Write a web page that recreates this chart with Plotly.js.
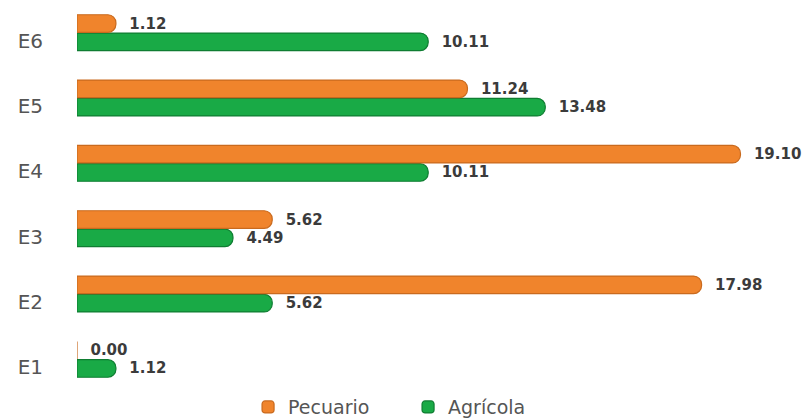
<!DOCTYPE html>
<html>
<head>
<meta charset="utf-8">
<script src="https://cdn.plot.ly/plotly-3.0.1.min.js"></script>
<style>
  html, body { margin: 0; padding: 0; background: #ffffff; }
  #chart { width: 803px; height: 418px; }
</style>
</head>
<body>
<div id="chart"></div>
<script>
// Participación por estrato (%), sector pecuario vs agrícola
const categories = ['E1', 'E2', 'E3', 'E4', 'E5', 'E6'];
const pecuario = [0.00, 17.98, 5.62, 19.10, 11.24, 1.12];
const agricola = [1.12, 5.62, 4.49, 10.11, 13.48, 10.11];

const fontFamily = '"DejaVu Sans", "Open Sans", sans-serif';
const labelFont = { family: fontFamily, size: 15, color: '#3b3b3b', weight: 'bold' };

function barTrace(name, values, fill, edge) {
  return {
    type: 'bar',
    orientation: 'h',
    name: name,
    y: categories,
    x: values,
    marker: { color: fill, line: { color: edge, width: 1.2 }, cornerradius: 8 },
    text: values.map(v => '\u00a0\u00a0' + v.toFixed(2)),
    textposition: 'outside',
    textfont: labelFont,
    constraintext: 'none',
    cliponaxis: false,
    hoverinfo: 'x+name'
  };
}

// Agrícola first so that Pecuario sits on top within each group
const data = [
  barTrace('Agrícola', agricola, '#19AA46', '#0F7D32'),
  barTrace('Pecuario', pecuario, '#F0842C', '#C96A1E')
];

const layout = {
  width: 803,
  height: 418,
  margin: { l: 77, r: 0, t: 0, b: 26, autoexpand: false },
  paper_bgcolor: '#ffffff',
  plot_bgcolor: '#ffffff',
  barmode: 'group',
  bargap: 0.44,
  bargroupgap: 0.04,
  showlegend: true,
  legend: {
    orientation: 'h',
    traceorder: 'reversed',
    x: 0.456, xanchor: 'center',
    y: 0.01, yanchor: 'top',
    font: { family: fontFamily, size: 19, color: '#555555' },
    itemwidth: 30,
    entrywidth: 115,
    itemclick: false
  },
  xaxis: {
    range: [0, 20.9],
    showgrid: false,
    zeroline: false,
    showline: false,
    showticklabels: false,
    fixedrange: true
  },
  yaxis: {
    type: 'category',
    categoryorder: 'array',
    categoryarray: categories,
    range: [-0.5, 5.5],
    showgrid: false,
    zeroline: false,
    showline: false,
    ticks: '',
    ticklabelstandoff: 33,
    ticklabelshift: 8,
    tickfont: { family: fontFamily, size: 20, color: '#555555' },
    fixedrange: true
  }
};

Plotly.newPlot('chart', data, layout, { displayModeBar: false, staticPlot: true });
</script>
</body>
</html>
